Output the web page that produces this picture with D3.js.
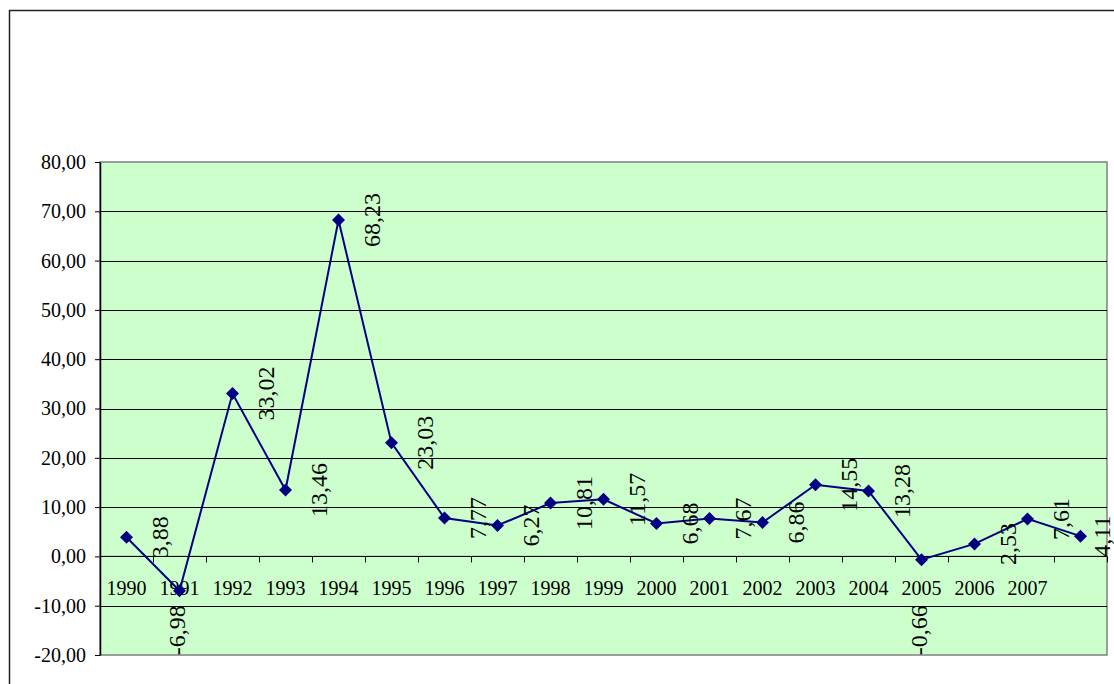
<!DOCTYPE html>
<html>
<head>
<meta charset="utf-8">
<script src="https://cdn.jsdelivr.net/npm/d3@7"></script>
<style>
  body { margin: 0; background: #fff; }
  svg { display: block; }
</style>
</head>
<body>
<div id="chart"></div>
<script>
// data
var years = ["1990", "1991", "1992", "1993", "1994", "1995", "1996", "1997", "1998", "1999",
             "2000", "2001", "2002", "2003", "2004", "2005", "2006", "2007", ""];
var values = [3.88, -6.98, 33.02, 13.46, 68.23, 23.03, 7.77, 6.27, 10.81, 11.57,
              6.68, 7.67, 6.86, 14.55, 13.28, -0.66, 2.53, 7.61, 4.11];
var yTicks = [-20, -10, 0, 10, 20, 30, 40, 50, 60, 70, 80];

var svgWidth = 1114;
var svgHeight = 684;

var margin = { top: 162, right: 7, bottom: 29, left: 100 };
var width = svgWidth - margin.left - margin.right;
var height = svgHeight - margin.top - margin.bottom;

var font = "'Liberation Serif', 'Times New Roman', serif";

var svg = d3.select("#chart")
  .append("svg")
  .attr("width", svgWidth)
  .attr("height", svgHeight);

// outer frame (runs off the right and bottom edge)
svg.append("rect")
  .attr("x", 9.5)
  .attr("y", 10.5)
  .attr("width", 1130)
  .attr("height", 700)
  .attr("fill", "none")
  .attr("stroke", "#222")
  .attr("stroke-width", 1.5);

var chartGroup = svg.append("g")
  .attr("transform", `translate(${margin.left}, ${margin.top})`);

var data = years.map((y, i) => ({ year: y, value: values[i] }));

var xScale = d3.scaleBand()
  .domain(d3.range(years.length))
  .range([0, width])
  .padding(0);

var yScale = d3.scaleLinear()
  .domain([-20, 80])
  .range([height, 0]);

var fmt = v => d3.format(".2f")(v).replace(".", ",").replace("−", "-");

// plot area
chartGroup.append("rect")
  .attr("width", width)
  .attr("height", height)
  .attr("fill", "#ccffcc")
  .attr("stroke", "#808080")
  .attr("stroke-width", 1.5);

// gridlines
chartGroup.selectAll(".grid")
  .data(yTicks.filter(t => t > -20 && t < 80))
  .enter()
  .append("line")
  .attr("x1", 0)
  .attr("x2", width)
  .attr("y1", d => Math.round(yScale(d)) + 0.5)
  .attr("y2", d => Math.round(yScale(d)) + 0.5)
  .attr("stroke", "#000")
  .attr("stroke-width", 1);

// y axis
var yAxis = d3.axisLeft(yScale)
  .tickValues(yTicks)
  .tickSize(5)
  .tickSizeOuter(0)
  .tickFormat(fmt);

var yAxisG = chartGroup.append("g").call(yAxis);
yAxisG.select(".domain").attr("stroke", "#000").attr("stroke-width", 1.5);
yAxisG.selectAll(".tick line").attr("stroke", "#000");
yAxisG.selectAll(".tick text")
  .attr("x", -14)
  .attr("font-family", font)
  .attr("font-size", "20px")
  .attr("fill", "#000");

// x axis on the zero line, ticks at category boundaries
var zeroY = yScale(0);
chartGroup.append("line")
  .attr("x1", 0)
  .attr("x2", width)
  .attr("y1", zeroY)
  .attr("y2", zeroY)
  .attr("stroke", "#000")
  .attr("stroke-width", 1);

chartGroup.selectAll(".xtick")
  .data(d3.range(years.length + 1))
  .enter()
  .append("line")
  .attr("x1", d => Math.round(d * xScale.bandwidth()) + 0.5)
  .attr("x2", d => Math.round(d * xScale.bandwidth()) + 0.5)
  .attr("y1", zeroY)
  .attr("y2", zeroY + 6)
  .attr("stroke", "#000");

var cx = i => xScale(i) + xScale.bandwidth() / 2;

chartGroup.selectAll(".xlabel")
  .data(data)
  .enter()
  .append("text")
  .attr("x", (d, i) => cx(i))
  .attr("y", zeroY + 39)
  .attr("text-anchor", "middle")
  .attr("font-family", font)
  .attr("font-size", "20px")
  .attr("fill", "#000")
  .text(d => d.year);

// series line
var line = d3.line()
  .x((d, i) => cx(i))
  .y(d => yScale(d.value));

chartGroup.append("path")
  .datum(data)
  .attr("d", line)
  .attr("fill", "none")
  .attr("stroke", "#000080")
  .attr("stroke-width", 2);

// diamond markers
chartGroup.selectAll(".marker")
  .data(data)
  .enter()
  .append("path")
  .attr("transform", (d, i) => `translate(${cx(i)}, ${yScale(d.value)})`)
  .attr("d", "M0,-6.5L6.5,0L0,6.5L-6.5,0Z")
  .attr("fill", "#000080");

// data labels, rotated (kept inside the chart on the right)
chartGroup.selectAll(".dlabel")
  .data(data)
  .enter()
  .append("text")
  .attr("transform", function(d, i) {
    var lx = d.value < 0 ? cx(i) - 3 : Math.min(cx(i) + 33, width - 5);
    var ly = d.value < 0 ? yScale(-15) : yScale(d.value);
    return `translate(${lx}, ${ly}) rotate(-90)`;
  })
  .attr("text-anchor", "middle")
  .attr("dy", "0.35em")
  .attr("font-family", font)
  .attr("font-size", "24px")
  .attr("fill", "#000")
  .text(d => fmt(d.value));
</script>
</body>
</html>
